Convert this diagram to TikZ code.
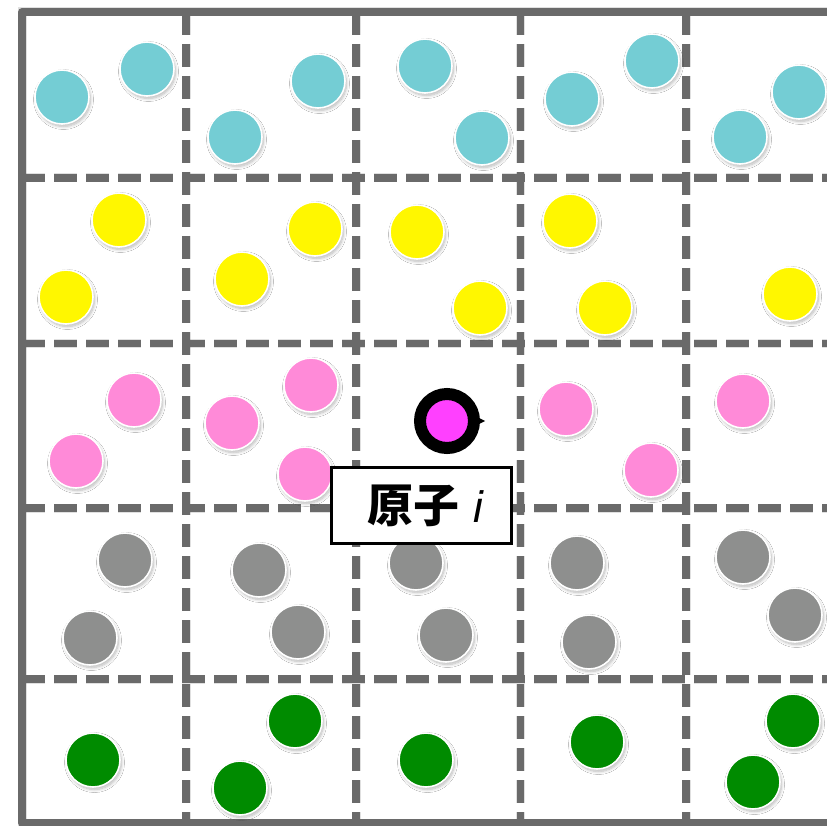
\documentclass[tikz,border=0pt]{standalone}
\usepackage{fontspec}
\newfontfamily\cjk{Noto Sans CJK SC}
\newfontfamily\itsans{Liberation Sans}
\usetikzlibrary{shadows.blur}
\definecolor{gridgray}{HTML}{6A6A6A}
\definecolor{cyanA}{HTML}{74CDD4}
\definecolor{yellowA}{HTML}{FFF700}
\definecolor{pinkA}{HTML}{FF8AD8}
\definecolor{grayA}{HTML}{8E8F8E}
\definecolor{greenA}{HTML}{008B00}
\definecolor{magentaA}{HTML}{FF40FF}
\tikzset{
  solidline/.style={draw=gridgray, line width=7.5pt, line join=round},
  dashline/.style={draw=gridgray, line width=7.5pt, dash pattern=on 23pt off 9pt},
  shadowline/.style={draw=black, opacity=0.12, line width=9pt, xshift=2pt, yshift=-3pt},
  atom/.style={circle, draw=white, line width=1.6pt, minimum size=54pt, inner sep=0pt,
    blur shadow={shadow xshift=1.5pt, shadow yshift=-2.5pt, shadow blur steps=8, shadow blur radius=3pt, shadow opacity=28}},
  special/.style={circle, draw=black, fill=magentaA, line width=12pt, minimum size=54pt, inner sep=0pt,
    blur shadow={shadow xshift=1.5pt, shadow yshift=-2.5pt, shadow blur steps=8, shadow blur radius=3pt, shadow opacity=28}},
  labelbox/.style={rectangle, draw=black, fill=white, line width=3.5pt, minimum width=180pt, minimum height=76pt, inner sep=0pt}
}
\begin{document}
\begin{tikzpicture}[x=1pt,y=-1pt]
\useasboundingbox (0,0) rectangle (827,826);
\fill[white] (0,0) rectangle (827,826);
% grid coordinates
\coordinate (TL) at (22,12);
\coordinate (TR) at (830,12);
\coordinate (BL) at (22,823);
\coordinate (BR) at (830,823);
\foreach \x/\n in {186/a,356/b,520.5/c,686/d}{
  \coordinate (vt\n) at (\x,12);
  \coordinate (vb\n) at (\x,823);
}
\foreach \y/\n in {178/a,343.5/b,508/c,679/d}{
  \coordinate (hl\n) at (22,\y);
  \coordinate (hr\n) at (830,\y);
}
% shadows of grid
\foreach \n in {a,b,c,d}{
  \draw[shadowline, dash pattern=on 23pt off 9pt] (vt\n) -- (vb\n);
  \draw[shadowline, dash pattern=on 23pt off 9pt] (hl\n) -- (hr\n);
}
\draw[shadowline] (TR) -- (TL) -- (BL) -- (BR);
% grid
\foreach \n in {a,b,c,d}{
  \draw[dashline] (vt\n) -- (vb\n);
  \draw[dashline] (hl\n) -- (hr\n);
}
\draw[solidline] (TR) -- (TL) -- (BL) -- (BR);
% row 1: cyan
\foreach \x/\y [count=\i] in {62/97,147/69,318/81,235/137,425/66,482/138,572/99,652/61,740/137,799/92}{
  \node[atom, fill=cyanA] (c\i) at (\x,\y) {};
}
% row 2: yellow
\foreach \x/\y [count=\i] in {119/220,66/297,315/229,242/279,417/232,480/308,570/221,605/308,790/294}{
  \node[atom, fill=yellowA] (y\i) at (\x,\y) {};
}
% row 3: pink
\foreach \x/\y [count=\i] in {134/400,76/461,311/385,232/423,305/474,566/409,651/470,743/401}{
  \node[atom, fill=pinkA] (p\i) at (\x,\y) {};
}
% row 4: gray
\foreach \x/\y [count=\i] in {125/560,90/638,259/570,298/632,416/563,446/635,577/563,589/642,743/557,795/615}{
  \node[atom, fill=grayA] (g\i) at (\x,\y) {};
}
% row 5: green
\foreach \x/\y [count=\i] in {93/760,295/721,240/788,426/760,597/742,793/721,753/782}{
  \node[atom, fill=greenA] (e\i) at (\x,\y) {};
}
% special atom i
\node[special] (atomi) at (447,421) {};
\fill[black] (atomi.east) ++(-3,-4) -- ++(8,4) -- ++(-8,4) -- cycle;
% label
\node[labelbox] (lab) at (421.5,505.5) {\hspace*{8pt}{\fontsize{46}{50}\selectfont\cjk\bfseries 原子}\hspace{14pt}{\fontsize{44}{50}\selectfont\itsans\itshape i}};
\end{tikzpicture}
\end{document}
